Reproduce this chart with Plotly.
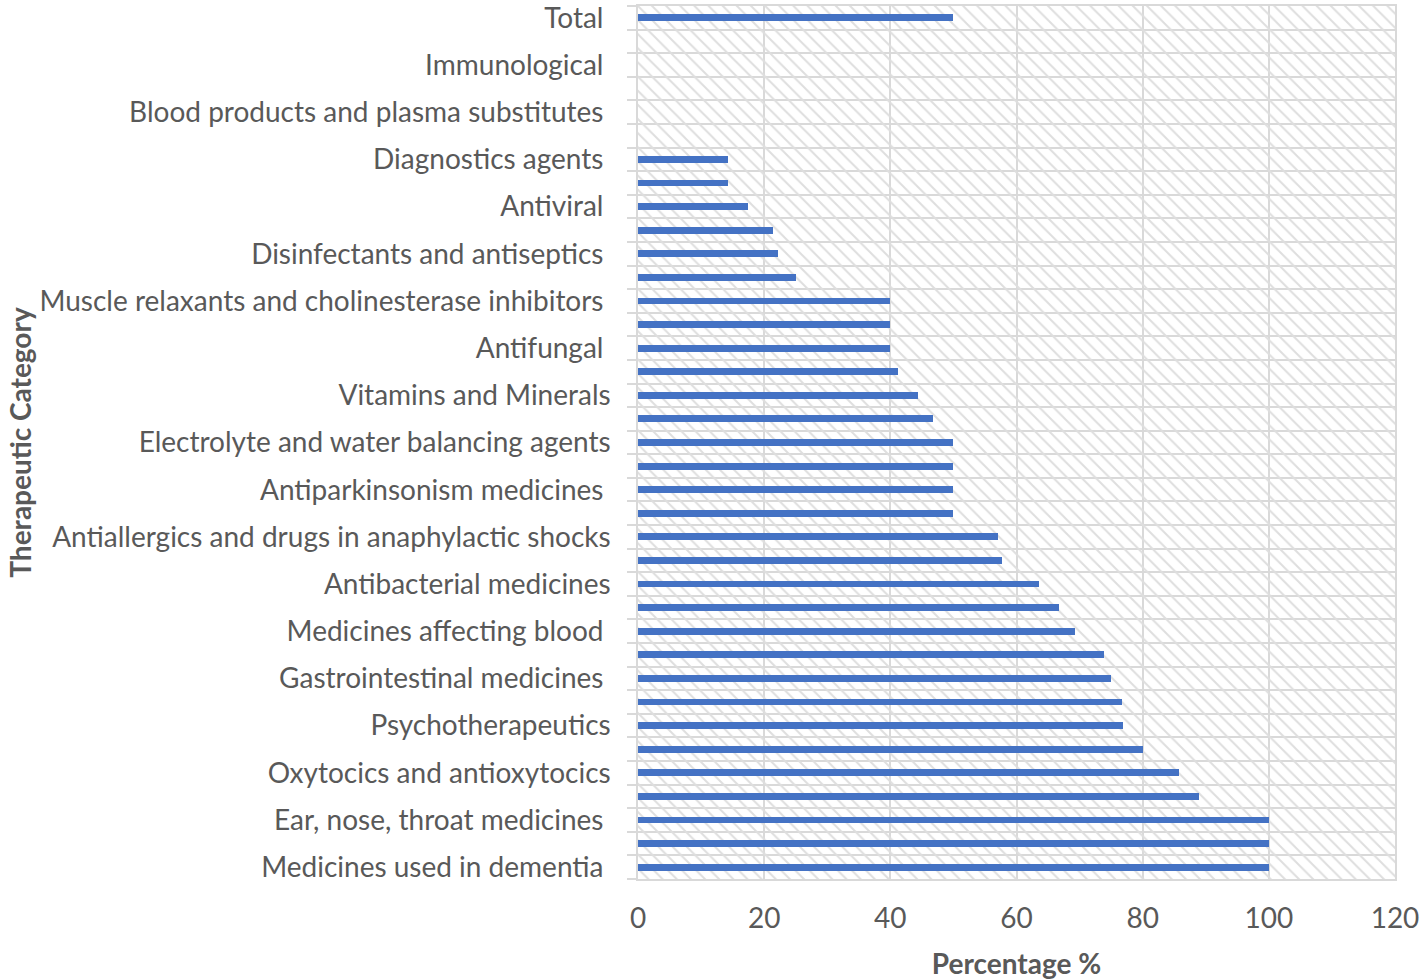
import plotly.graph_objects as go

# Categories listed top to bottom ("" = row without a visible label)
categories = [
    "Total\u00a0", "", "Immunological\u00a0", "", "Blood products and plasma substitutes\u00a0", "",
    "Diagnostics agents\u00a0", "", "Antiviral\u00a0", "", "Disinfectants and antiseptics\u00a0", "",
    "Muscle relaxants and cholinesterase inhibitors\u00a0", "", "Antifungal\u00a0", "",
    "Vitamins and Minerals", "", "Electrolyte and water balancing agents", "",
    "Antiparkinsonism medicines\u00a0", "", "Antiallergics and drugs in anaphylactic shocks", "",
    "Antibacterial medicines", "", "Medicines affecting blood\u00a0", "",
    "Gastrointestinal medicines\u00a0", "", "Psychotherapeutics", "",
    "Oxytocics and antioxytocics", "", "Ear, nose, throat medicines\u00a0", "",
    "Medicines used in dementia\u00a0",
]
values = [
    50, 0, 0, 0, 0, 0,
    14.3, 14.3, 17.4, 21.4, 22.2, 25,
    40, 40, 40, 41.2, 44.4, 46.7,
    50, 50, 50, 50, 57.1, 57.7,
    63.6, 66.7, 69.2, 73.9, 75, 76.7,
    76.9, 80, 85.7, 88.9, 100, 100,
    100,
]
x_ticks = [0, 20, 40, 60, 80, 100, 120]
XMAX = 120

rows = list(range(len(categories)))
label_rows = [i for i, c in enumerate(categories) if c]
label_text = [categories[i] for i in label_rows]

GRID = "#d9d9d9"
TEXT = "#595959"
FONT = "Lato"
FS = 28

fig = go.Figure()
# hatched background band for each row
fig.add_trace(go.Bar(
    x=[XMAX] * len(rows), y=rows, orientation="h", width=1,
    marker=dict(color="#dedede", line=dict(width=0),
                pattern=dict(shape="\\", size=10, solidity=0.2, fillmode="replace")),
    hoverinfo="skip", showlegend=False,
))
fig.add_trace(go.Bar(
    x=values, y=rows, orientation="h", width=0.29,
    marker=dict(color="#4472C4", line=dict(width=0)),
    showlegend=False,
))

fig.update_layout(
    width=1424, height=980,
    margin=dict(l=638, r=29, t=6, b=101, autoexpand=False),
    paper_bgcolor="white", plot_bgcolor="white",
    barmode="overlay", bargap=0,
    font=dict(family=FONT, color=TEXT, size=FS),
)
fig.update_xaxes(
    range=[0, XMAX], tickmode="array", tickvals=x_ticks, automargin=False,
    showgrid=True, gridcolor=GRID, gridwidth=1.5, zeroline=False,
    showline=True, linecolor=GRID, linewidth=1.5, mirror=True,
    ticks="", ticklabelstandoff=14, ticklabeloverflow="allow",
    tickfont=dict(family=FONT, size=FS, color=TEXT),
    title=dict(text="<b>Percentage %</b>", font=dict(family=FONT, size=FS, color=TEXT), standoff=22),
)
fig.update_yaxes(
    range=[len(rows) - 0.5, -0.5], tickmode="array", tickvals=label_rows, ticktext=label_text,
    automargin=False,
    showgrid=False, zeroline=False,
    showline=True, linecolor=GRID, linewidth=1.5, mirror=True,
    ticks="", ticklabelstandoff=20, ticklabeloverflow="allow",
    minor=dict(tick0=0.5, dtick=1, showgrid=True, gridcolor=GRID, gridwidth=1.5,
               ticks="outside", ticklen=9, tickcolor=GRID, tickwidth=1.5),
    tickfont=dict(family=FONT, size=FS, color=TEXT),
    title=dict(text="<b>Therapeutic Category</b>", font=dict(family=FONT, size=FS, color=TEXT), standoff=0),
)

fig.write_html("out.html", config={"displayModeBar": False},
               post_script="document.body.style.margin='0';")
